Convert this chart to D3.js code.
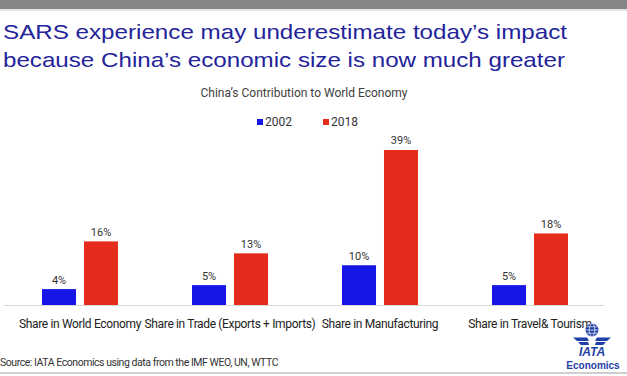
<!DOCTYPE html>
<html lang="en">
<head>
<meta charset="utf-8">
<title>China's Contribution to World Economy</title>
<script src="https://cdn.jsdelivr.net/npm/d3@7"></script>
<style>
  body { margin: 0; background: #fff; }
  svg { display: block; font-family: "Liberation Sans", Arial, sans-serif; }
</style>
</head>
<body>
<script>
// data
var categories = ["Share in World Economy", "Share in Trade (Exports + Imports)", "Share in Manufacturing", "Share in Travel& Tourism"];
var seriesNames = ["2002", "2018"];
var values2002 = [4, 5, 10, 5];
var values2018 = [16, 13, 39, 18];
var colors = ["#1616e6", "#e52b1c"];

var W = 627, H = 376;
var svg = d3.select("body").append("svg").attr("width", W).attr("height", H);

// top grey band + bottom rule
svg.append("rect").attr("x", 0).attr("y", 0).attr("width", W).attr("height", 9).attr("fill", "#858585");
svg.append("rect").attr("x", 0).attr("y", 9).attr("width", W).attr("height", 2).attr("fill", "#e4e4e4");
svg.append("rect").attr("x", 0).attr("y", 372).attr("width", W).attr("height", 2).attr("fill", "#cfcfcf");

// title
var title = svg.append("g").attr("fill", "#24249a").attr("font-size", 21);
title.append("text").attr("x", 3).attr("y", 39)
  .attr("textLength", 564).attr("lengthAdjust", "spacingAndGlyphs")
  .text("SARS experience may underestimate today\u2019s impact");
title.append("text").attr("x", 3).attr("y", 67)
  .attr("textLength", 562).attr("lengthAdjust", "spacingAndGlyphs")
  .text("because China\u2019s economic size is now much greater");

svg.append("text").attr("x", 304).attr("y", 97).attr("text-anchor", "middle")
  .attr("font-size", 12).attr("fill", "#404040").attr("font-family", "Roboto, sans-serif")
  .text("China\u2019s Contribution to World Economy");

// legend
var legend = svg.selectAll(".leg").data(seriesNames).enter().append("g")
  .attr("transform", function(d, i) { return "translate(" + (257 + i * 66) + ",119)"; });
legend.append("rect").attr("width", 6).attr("height", 6).attr("fill", function(d, i) { return colors[i]; });
legend.append("text").attr("x", 8).attr("y", 6.5).attr("font-size", 12).attr("fill", "#333")
  .attr("font-family", "Roboto, sans-serif").text(function(d) { return d; });

// scales
var x0 = d3.scaleBand().domain(categories).range([5, 605]);
var x1 = d3.scaleBand().domain(seriesNames).range([x0.bandwidth() / 2 - 38, x0.bandwidth() / 2 + 38]).paddingInner(0.19);
var y = d3.scaleLinear().domain([0, 40]).range([305, 146]);

var rows = categories.map(function(c, i) {
  return { cat: c, vals: [values2002[i], values2018[i]] };
});

var groups = svg.selectAll(".grp").data(rows).enter().append("g")
  .attr("transform", function(d) { return "translate(" + x0(d.cat) + ",0)"; });

groups.selectAll("rect").data(function(d) { return d.vals; }).enter().append("rect")
  .attr("x", function(d, i) { return x1(seriesNames[i]); })
  .attr("y", function(d) { return y(d); })
  .attr("width", x1.bandwidth())
  .attr("height", function(d) { return y(0) - y(d); })
  .attr("fill", function(d, i) { return colors[i]; });

groups.selectAll(".lbl").data(function(d) { return d.vals; }).enter().append("text")
  .attr("x", function(d, i) { return x1(seriesNames[i]) + x1.bandwidth() / 2; })
  .attr("y", function(d) { return y(d) - 5.5; })
  .attr("text-anchor", "middle").attr("font-size", 11).attr("fill", "#333")
  .attr("font-family", "Roboto, sans-serif")
  .text(function(d) { return d + "%"; });

// axis
var xAxis = svg.append("g").attr("transform", "translate(0,305.5)")
  .call(d3.axisBottom(x0).tickSize(0).tickPadding(14));
xAxis.select(".domain").attr("stroke", "#d9d9d9").attr("d", "M4,0H604");
xAxis.selectAll("text").attr("font-size", 12).attr("fill", "#222")
  .attr("font-family", "Roboto, sans-serif").attr("letter-spacing", -0.35);

// source
svg.append("text").attr("x", 0).attr("y", 366).attr("font-size", 10.5).attr("fill", "#333")
  .attr("font-family", "Roboto, sans-serif").attr("letter-spacing", -0.45)
  .text("Source: IATA Economics using data from the IMF WEO, UN, WTTC");

// IATA logo
var logo = svg.append("g").attr("transform", "translate(592,0)").attr("fill", "#1f3fa8");
logo.append("circle").attr("cx", 0).attr("cy", 330).attr("r", 6.5);
logo.append("g").attr("stroke", "#fff").attr("stroke-width", 0.7).attr("fill", "none")
  .call(function(g) {
    g.append("ellipse").attr("cx", 0).attr("cy", 330).attr("rx", 2.8).attr("ry", 6.5);
    g.append("line").attr("x1", -6.5).attr("x2", 6.5).attr("y1", 330).attr("y2", 330);
    g.append("line").attr("x1", -5.5).attr("x2", 5.5).attr("y1", 326.8).attr("y2", 326.8);
    g.append("line").attr("x1", -5.5).attr("x2", 5.5).attr("y1", 333.2).attr("y2", 333.2);
  });
logo.append("path").attr("d", "M-19,337.5 L-5,337.5 L-3,341 L-15,341 Z M19,337.5 L5,337.5 L3,341 L15,341 Z M-14,342 L-4,342 L-3,345 L-11,345 Z M14,342 L4,342 L3,345 L11,345 Z");
logo.append("text").attr("x", 0).attr("y", 356).attr("text-anchor", "middle")
  .attr("font-size", 12).attr("font-weight", "bold").attr("font-style", "italic").text("IATA");
logo.append("text").attr("x", 1).attr("y", 369).attr("text-anchor", "middle")
  .attr("font-size", 10).attr("font-weight", "bold").text("Economics");
</script>
</body>
</html>
